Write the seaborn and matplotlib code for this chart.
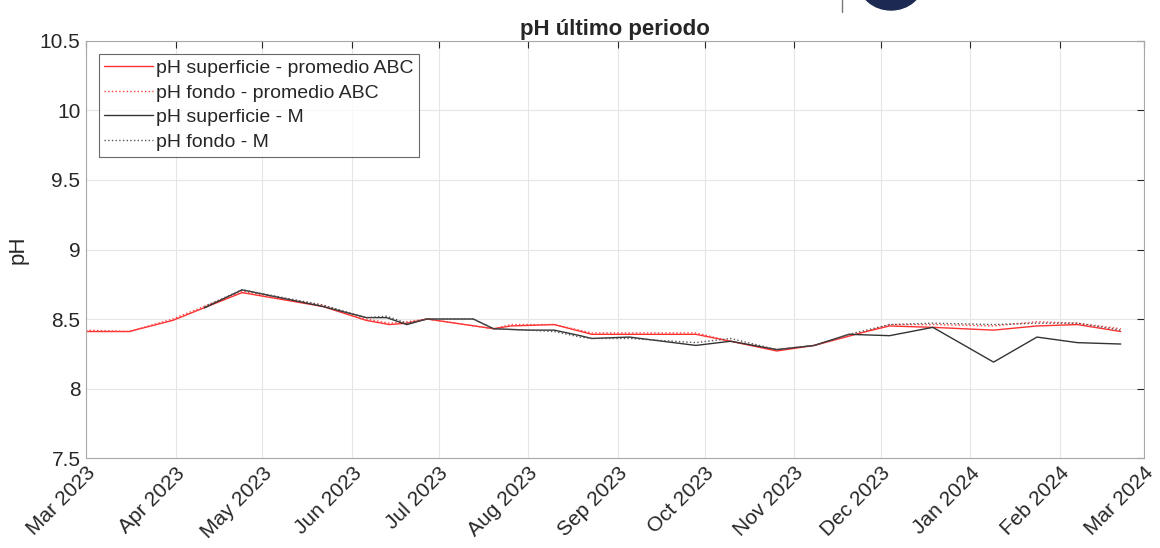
import numpy as np
import pandas as pd
import matplotlib
matplotlib.use("Agg")
import matplotlib.pyplot as plt
import matplotlib.dates as mdates
from matplotlib.patches import Ellipse
import seaborn as sns

# data
fechas_abc = ["2023-03-01", "2023-03-16", "2023-03-31", "2023-04-24", "2023-05-22",
              "2023-06-06", "2023-06-14", "2023-06-20", "2023-06-27", "2023-07-20",
              "2023-07-26", "2023-08-10", "2023-08-23", "2023-09-28", "2023-10-10",
              "2023-10-26", "2023-11-08", "2023-11-24", "2023-12-04", "2023-12-19",
              "2024-01-09", "2024-01-24", "2024-02-07", "2024-02-22"]
ph_sup_abc = [8.41, 8.41, 8.49, 8.69, 8.59, 8.49, 8.46, 8.47, 8.50, 8.43,
              8.45, 8.46, 8.39, 8.39, 8.34, 8.27, 8.31, 8.40, 8.45, 8.44,
              8.42, 8.45, 8.46, 8.41]
ph_fon_abc = [8.42, 8.41, 8.50, 8.70, 8.60, 8.50, 8.47, 8.48, 8.50, 8.43,
              8.46, 8.46, 8.40, 8.40, 8.34, 8.28, 8.31, 8.40, 8.46, 8.46,
              8.45, 8.48, 8.47, 8.43]

fechas_m = ["2023-04-11", "2023-04-24", "2023-05-22", "2023-06-06", "2023-06-13",
            "2023-06-20", "2023-06-27", "2023-07-13", "2023-07-20", "2023-08-01",
            "2023-08-10", "2023-08-19", "2023-08-23", "2023-09-05", "2023-09-28",
            "2023-10-10", "2023-10-26", "2023-11-08", "2023-11-20", "2023-12-04",
            "2023-12-19", "2024-01-09", "2024-01-24", "2024-02-07", "2024-02-22"]
ph_sup_m = [8.58, 8.71, 8.59, 8.51, 8.51, 8.46, 8.50, 8.50, 8.43, 8.42,
            8.42, 8.38, 8.36, 8.37, 8.31, 8.34, 8.28, 8.31, 8.39, 8.38,
            8.44, 8.19, 8.37, 8.33, 8.32]
ph_fon_m = [8.59, 8.71, 8.60, 8.51, 8.52, 8.47, 8.50, 8.50, 8.43, 8.42,
            8.41, 8.37, 8.36, 8.36, 8.33, 8.36, 8.28, 8.31, 8.39, 8.46,
            8.47, 8.46, 8.47, 8.47, 8.42]

sns.set_style("white")
plt.rcParams["font.family"] = ["Liberation Sans", "DejaVu Sans"]

fig = plt.figure(figsize=(11.6, 5.48), dpi=100)
ax = fig.add_axes([0.0741, 0.1642, 0.912, 0.761])

t_abc = pd.to_datetime(fechas_abc)
t_m = pd.to_datetime(fechas_m)

sns.lineplot(x=t_abc, y=ph_sup_abc, ax=ax, color="#ff3030", lw=1,
             label="pH superficie - promedio ABC")
sns.lineplot(x=t_abc, y=ph_fon_abc, ax=ax, color="#ff4040", lw=1, linestyle=":",
             label="pH fondo - promedio ABC")
sns.lineplot(x=t_m, y=ph_sup_m, ax=ax, color="#333333", lw=1,
             label="pH superficie - M")
sns.lineplot(x=t_m, y=ph_fon_m, ax=ax, color="#555555", lw=1, linestyle=":",
             label="pH fondo - M")

ax.set_xlim(pd.Timestamp("2023-03-01"), pd.Timestamp("2024-03-01"))
ax.set_ylim(7.5, 10.5)
ax.set_yticks([7.5, 8, 8.5, 9, 9.5, 10, 10.5])
ax.set_yticklabels(["7.5", "8", "8.5", "9", "9.5", "10", "10.5"])
ax.xaxis.set_major_locator(mdates.MonthLocator())
ax.xaxis.set_major_formatter(mdates.DateFormatter("%b %Y"))
plt.setp(ax.get_xticklabels(), rotation=45, ha="right", rotation_mode="anchor")

ax.grid(True, color="#e6e6e6", lw=0.8)
ax.tick_params(direction="in", top=True, right=True, length=5, width=0.8,
               colors="#262626", labelsize=15, pad=4)
for s in ax.spines.values():
    s.set_color("#a8a8a8")
    s.set_linewidth(0.8)

ax.set_xlabel("")
ax.set_ylabel("pH", fontsize=16, color="#262626", labelpad=8)
ax.set_title("pH último periodo", fontsize=16, fontweight="bold", pad=4)

leg = ax.legend(loc="upper left", bbox_to_anchor=(0.012, 0.97), fontsize=14,
                frameon=True, fancybox=False, edgecolor="#444444",
                handlelength=2.5, handletextpad=0.15, borderpad=0.3,
                labelspacing=0.36, borderaxespad=0.0)
leg.get_frame().set_linewidth(0.8)

# partial logo at the top edge
fig.add_artist(plt.Line2D([842 / 1160, 842 / 1160], [1, 1 - 12 / 548],
                          color="#777777", lw=1, transform=fig.transFigure))
fig.add_artist(Ellipse((891 / 1160, 1 + 18 / 548), 64 / 1160, 56 / 548,
                       color="#1c2a52", transform=fig.transFigure))

fig.savefig("out.png", dpi=100)
